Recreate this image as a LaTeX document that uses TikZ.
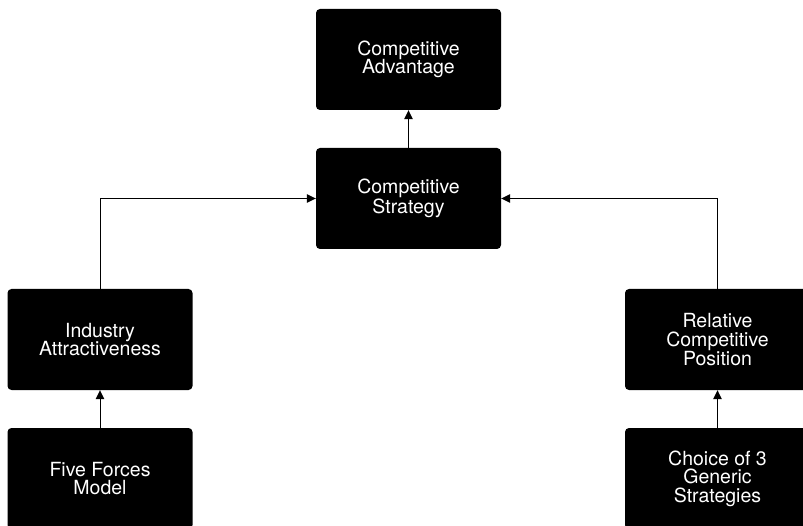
\documentclass[tikz,border=0pt]{standalone}
\usepackage{fontspec}
\setmainfont{TeX Gyre Heros}
\usetikzlibrary{arrows.meta}
\begin{document}
\begin{tikzpicture}[x=1pt,y=-1pt,
  box/.style={fill=black, draw=none, rounded corners=4pt, minimum width=185pt, minimum height=101pt,
    text=white, align=center, inner sep=0pt,
    font=\fontsize{19.5pt}{18.6pt}\selectfont},
  arr/.style={line width=1pt, -{Triangle[length=9pt,width=8.5pt]}}]
\useasboundingbox (0,0) rectangle (803,526);
\node[box] (adv) at (408.5,59.5) {Competitive\\Advantage};
\node[box] (strat) at (408.5,198.5) {Competitive\\Strategy};
\node[box] (ind) at (100,339.5) {Industry\\Attractiveness};
\node[box] (five) at (100,478.5) {Five Forces\\Model};
\node[box] (rel) at (717.5,339.5) {Relative\\Competitive\\Position};
\node[box] (choice) at (717.5,478.5) {Choice of 3\\Generic\\Strategies};
\draw[arr] (strat.north) -- (adv.south);
\draw[arr] (five.north) -- (ind.south);
\draw[arr] (choice.north) -- (rel.south);
\draw[arr] (ind.north) |- (strat.west);
\draw[arr] (rel.north) |- (strat.east);
\end{tikzpicture}
\end{document}
